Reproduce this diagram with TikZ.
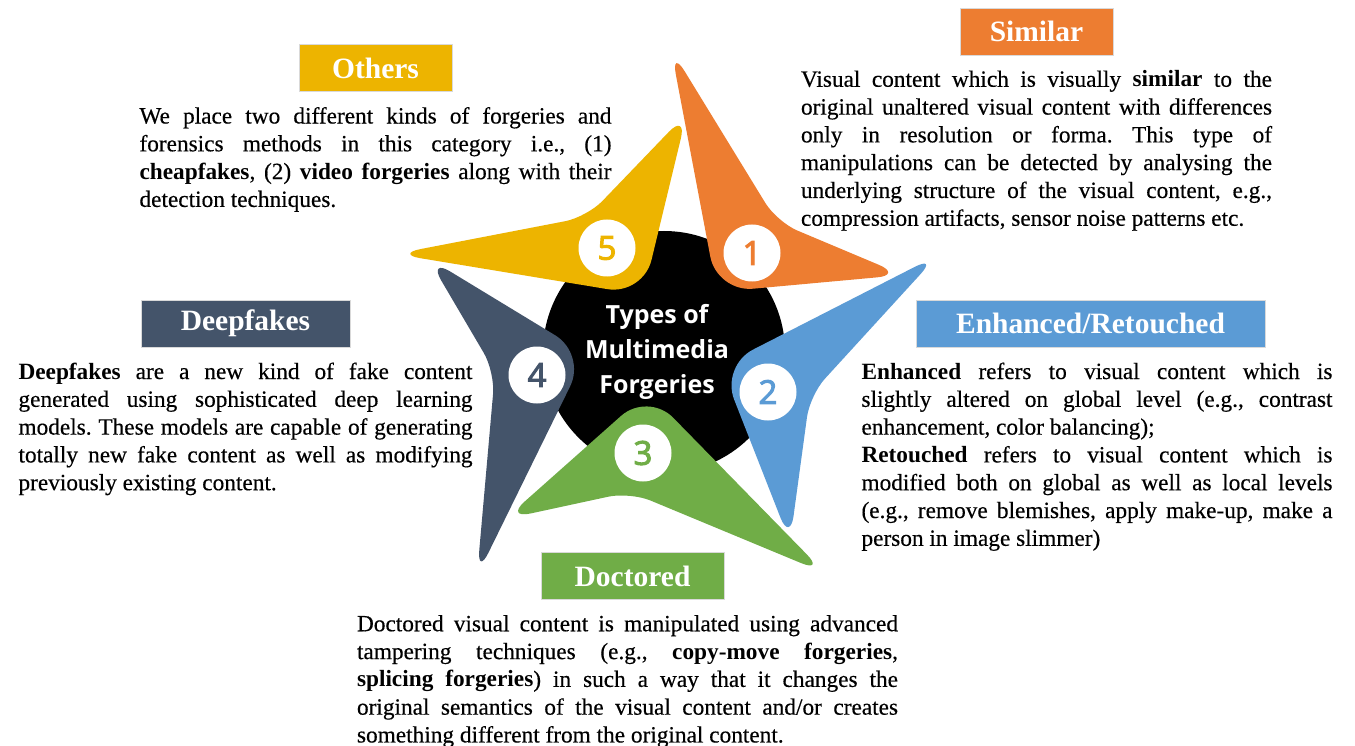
\documentclass[tikz,border=0pt]{standalone}
\usepackage{fontspec}
\setmainfont{Liberation Serif}[UprightFeatures={FakeBold=0.4}]
\newfontfamily\titlefont{Open Sans}
\newfontfamily\numfont{Open Sans}[FakeBold=3]
\usetikzlibrary{positioning,calc}
\frenchspacing

\definecolor{simcol}{RGB}{237,125,49}
\definecolor{enhcol}{RGB}{91,155,213}
\definecolor{doccol}{RGB}{112,173,71}
\definecolor{deepcol}{RGB}{68,84,106}
\definecolor{othcol}{RGB}{237,180,0}

\tikzset{
  head/.style={fill=#1, draw=black!15, line width=0.8pt, text=white, inner sep=0pt,
    minimum height=47pt, font=\fontsize{29.5}{32}\selectfont\bfseries},
  body/.style={text width=#1, align=justify, inner sep=0pt,
    font=\fontsize{23.3}{27.8}\selectfont},
  num/.style={circle, fill=white, inner sep=0pt, minimum size=57pt,
    font=\numfont\fontsize{33}{33}\selectfont, text=#1},
}

% petal: colour, first tip, armpit, second tip, hub corner
\newcommand{\petal}[5]{%
  \fill[#1] ($(#5)!36pt!(#2)$)
    .. controls ($(#5)!16pt!(#2)$) and ($(#5)!16pt!(#4)$) .. ($(#5)!36pt!(#4)$)
    -- ($(#4)!26pt!(#5)$)
    .. controls ($(#4)!12pt!(#5)$) and ($(#4)!12pt!(#3)$) .. ($(#4)!26pt!(#3)$)
    -- ($(#3)!22pt!(#4)$)
    .. controls ($(#3)!10pt!(#4)$) and ($(#3)!10pt!(#2)$) .. ($(#3)!22pt!(#2)$)
    -- ($(#2)!26pt!(#3)$)
    .. controls ($(#2)!12pt!(#3)$) and ($(#2)!12pt!(#5)$) .. ($(#2)!26pt!(#5)$)
    -- cycle;}

\begin{document}
\begin{tikzpicture}[x=1pt,y=-1pt,node distance=15pt]
\fill[white] (0,0) rectangle (1355,746);
\useasboundingbox (0,0) rectangle (1355,746);

% the wheel
\fill[black] (664,352) circle (121pt);
\petal{simcol}{671,49}{777,222}{903,275}{717,292}
\petal{enhcol}{938,255}{810,395}{790,542}{721,366}
\petal{doccol}{825,573}{630,492}{505,519}{648,392}
\petal{deepcol}{477,576}{495,372}{428,258}{586,354}
\petal{othcol}{395,254}{587,217}{687,113}{643,295}

\node[num=simcol] (n1) at (752,253) {1};
\node[num=enhcol] (n2) at (768,392) {2};
\node[num=doccol] (n3) at (643,453) {3};
\node[num=deepcol] (n4) at (537,375) {4};
\node[num=othcol] (n5) at (607,248) {5};

\node[align=center, text=white, font=\titlefont\bfseries\fontsize{25}{35}\selectfont]
  (title) at (657,352) {Types of\\Multimedia\\Forgeries};

% headings and descriptions
\node[head=simcol, minimum width=153pt] (similar) at (1036.5,31.5) {Similar};
\node[body=471pt, below=of similar] (simtext) {Visual content which is visually
  \textbf{similar} to the\linebreak original unaltered visual content with
  differences\linebreak only in resolution or forma. This type of\linebreak
  manipulations can be detected by analysing the\linebreak underlying structure
  of the visual content, e.g.,\linebreak compression artifacts, sensor noise
  patterns etc.};

\node[head=enhcol, minimum width=349pt] (enhanced) at (1090.5,323.5) {Enhanced/Retouched};
\node[body=471pt, below=of enhanced, xshift=6.5pt] (enhtext) {\textbf{Enhanced} refers
  to visual content which is\linebreak slightly altered on global level (e.g.,
  contrast\linebreak enhancement, color balancing);\par \textbf{Retouched} refers
  to visual content which is\linebreak modified both on global as well as local
  levels\linebreak (e.g., remove blemishes, apply make-up, make a\linebreak
  person in image slimmer)};

\node[head=doccol, minimum width=183pt] (doctored) at (632.5,576) {Doctored};
\node[body=541pt, below=of doctored, xshift=-5pt] (doctext) {Doctored visual content
  is manipulated using advanced\linebreak tampering techniques (e.g.,
  \textbf{copy-move forgeries},\linebreak \textbf{splicing forgeries}) in such a
  way that it changes the\linebreak original semantics of the visual content
  and/or creates\linebreak something different from the original content.};

\node[head=deepcol, minimum width=209pt] (deepfakes) at (245.5,323.5) {Deepfakes};
\node[body=454pt, below=of deepfakes] (deeptext) {\textbf{Deepfakes} are a new kind
  of fake content\linebreak generated using sophisticated deep learning\linebreak
  models. These models are capable of generating\linebreak totally new fake
  content as well as modifying\linebreak previously existing content.};

\node[head=othcol, minimum width=153pt] (others) at (375.5,68) {Others};
\node[body=472pt, below=of others] (othtext) {We place two different kinds of
  forgeries and\linebreak forensics methods in this category i.e.,
  (1)\linebreak \textbf{cheapfakes}, (2) \textbf{video forgeries} along with
  their\linebreak detection techniques.};
\end{tikzpicture}
\end{document}
